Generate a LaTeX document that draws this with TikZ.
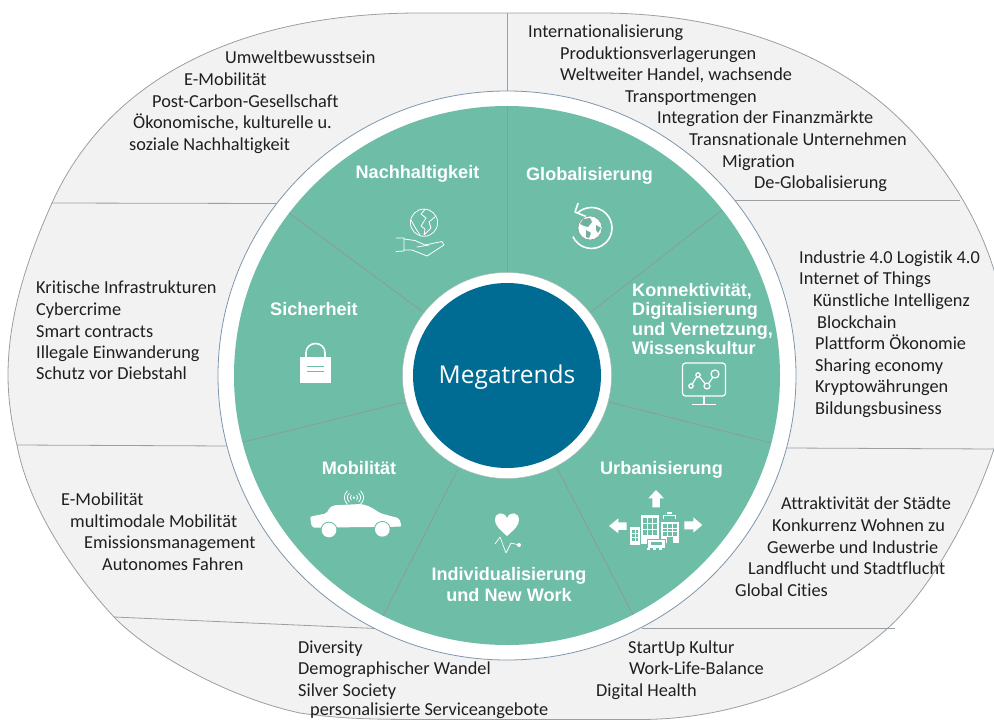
\documentclass[tikz,border=0pt]{standalone}
\usepackage{fontspec}
\usetikzlibrary{shapes.geometric}
\setmainfont[Ligatures=NoCommon]{Carlito}
\newfontfamily\labelfont{Liberation Sans}
\newfontfamily\centerfont{Open Sans}
\definecolor{tealfill}{HTML}{6DBDA7}
\definecolor{deepblue}{HTML}{006C94}
\definecolor{panelgray}{HTML}{F2F2F2}
\definecolor{linegray}{HTML}{9A9FA3}
\definecolor{ringblue}{HTML}{7F96AC}
\definecolor{sepgray}{HTML}{8E9C98}
\tikzset{
  x=1pt,y=-1pt,
  item/.style={anchor=base west,inner sep=0pt,font=\fontsize{18.3}{20}\selectfont,text=black!88},
  trend/.style={anchor=base,inner sep=0pt,text=white,font=\labelfont\bfseries\fontsize{18.1}{20}\selectfont},
  trendl/.style={trend,anchor=base west},
  outerline/.style={draw=linegray,line width=0.8pt},
  sepline/.style={draw=sepgray,line width=0.8pt},
  iconfill/.style={fill=white,draw=none},
  iconline/.style={draw=white,line width=0.8pt,fill=none,line cap=round,line join=round},
  iconcut/.style={fill=tealfill,draw=none},
}
\begin{document}
\begin{tikzpicture}
\useasboundingbox (0,0) rectangle (994,720);
\clip (0,0) rectangle (994,720);
% outer shape
\draw[fill=panelgray,draw=linegray,line width=0.8pt]
 (420,13) .. controls (230,13) and (105,85) .. (52,203)
 .. controls (25,263) and (8,320) .. (8,375)
 .. controls (8,400) and (12,425) .. (17,445)
 .. controls (28,505) and (72,572) .. (114,617)
 .. controls (145,650) and (225,697) .. (300,713)
 .. controls (340,719) and (380,719.5) .. (420,719.5)
 -- (640,719.5)
 .. controls (740,719.5) and (830,680) .. (888,628)
 .. controls (930,590) and (972,515) .. (994,449)
 .. controls (1003,420) and (1006,395) .. (1006,360)
 .. controls (1006,330) and (1003,300) .. (994,270)
 .. controls (980,225) and (955,180) .. (917,137)
 .. controls (840,50) and (720,13) .. (600,13)
 -- cycle;
% outer dividers
\draw[outerline] (507,13) -- (507,92);
\draw[outerline] (52,203) -- (276,203.5);
\draw[outerline] (735,200.7) -- (960,200.7);
\draw[outerline] (17,445) -- (228,446);
\draw[outerline] (787,448) -- (994,449);
\draw[outerline] (114,617) -- (376,628.5);
\draw[outerline] (642,628) -- (895,628);
% rings
\node[ellipse,minimum width=578pt,minimum height=569pt,inner sep=0pt,fill=white,draw=ringblue,line width=0.8pt] (ring) at (507,375.5) {};
\node[ellipse,minimum width=546pt,minimum height=539pt,inner sep=0pt,fill=tealfill] (wheel) at (507,375.5) {};
% separators
\draw[sepline] (507,106) -- (507,272);
\draw[sepline] (289,213) -- (423,312);
\draw[sepline] (722,210) -- (591,312);
\draw[sepline] (243,442) -- (405,402);
\draw[sepline] (609,402) -- (771,443);
\draw[sepline] (458,469) -- (383,616);
\draw[sepline] (557,468) -- (633,615);
% centre
\node[ellipse,minimum width=209pt,minimum height=206pt,inner sep=0pt,fill=white,draw=sepgray!70,line width=0.4pt] (hubring) at (507,375.5) {};
\node[ellipse,minimum width=188pt,minimum height=185pt,inner sep=0pt,fill=deepblue] (hub) at (507,375.5) {};
\node[anchor=base,inner sep=0pt,text=white,font=\centerfont\fontsize{24.5}{30}\selectfont] (megatrends) at (507,383) {Megatrends};
% trend labels
\node[trend] (t1) at (417.5,178) {Nachhaltigkeit};
\node[trend] (t2) at (589.5,180) {Globalisierung};
\node[trend] (t3) at (314,315) {Sicherheit};
\node[trendl] (t4a) at (632,296) {Konnektivität,};
\node[trendl] (t4b) at (632,315) {Digitalisierung};
\node[trendl] (t4c) at (632,335) {und Vernetzung,};
\node[trendl] (t4d) at (632,354) {Wissenskultur};
\node[trend] (t5) at (359,474) {Mobilität};
\node[trend] (t6) at (661.5,474) {Urbanisierung};
\node[trend] (t7a) at (509,580) {Individualisierung};
\node[trend] (t7b) at (509,601) {und New Work};
% items
\node[item] (a1) at (225,63) {Umweltbewusstsein};
\node[item] (a2) at (184,85) {E-Mobilität};
\node[item] (a3) at (152,107) {Post-Carbon-Gesellschaft};
\node[item] (a4) at (133,128) {Ökonomische, kulturelle u.};
\node[item] (a5) at (129,150) {soziale Nachhaltigkeit};
\node[item] (b1) at (36,293) {Kritische Infrastrukturen};
\node[item] (b2) at (36,315) {Cybercrime};
\node[item] (b3) at (36,337) {Smart contracts};
\node[item] (b4) at (36,358) {Illegale Einwanderung};
\node[item] (b5) at (36,379) {Schutz vor Diebstahl};
\node[item] (c1) at (61,505) {E-Mobilität};
\node[item] (c2) at (70,527) {multimodale Mobilität};
\node[item] (c3) at (84,548) {Emissionsmanagement};
\node[item] (c4) at (102,570) {Autonomes Fahren};
\node[item] (d1) at (298,653) {Diversity};
\node[item] (d2) at (298,674) {Demographischer Wandel};
\node[item] (d3) at (298,696) {Silver Society};
\node[item] (d4) at (310,715.5) {personalisierte Serviceangebote};
\node[item] (e1) at (628,653) {StartUp Kultur};
\node[item] (e2) at (629,674) {Work-Life-Balance};
\node[item] (e3) at (596,696) {Digital Health};
\node[item] (f1) at (781,509) {Attraktivität der Städte};
\node[item] (f2) at (772,531) {Konkurrenz Wohnen zu};
\node[item] (f3) at (767,553) {Gewerbe und Industrie};
\node[item] (f4) at (748,574) {Landflucht und Stadtflucht};
\node[item] (f5) at (735,596) {Global Cities};
\node[item] (g1) at (528,37) {Internationalisierung};
\node[item] (g2) at (560,59) {Produktionsverlagerungen};
\node[item] (g3) at (560,80) {Weltweiter Handel, wachsende};
\node[item] (g4) at (625,102) {Transportmengen};
\node[item] (g5) at (657,123) {Integration der Finanzmärkte};
\node[item] (g6) at (689,145) {Transnationale Unternehmen};
\node[item] (g7) at (722,167) {Migration};
\node[item] (g8) at (754,188) {De-Globalisierung};
\node[item] (h1) at (799,263) {Industrie 4.0 Logistik 4.0};
\node[item] (h2) at (799,284) {Internet of Things};
\node[item] (h3) at (813,306) {Künstliche Intelligenz};
\node[item] (h4) at (817,328) {Blockchain};
\node[item] (h5) at (815,349) {Plattform Ökonomie};
\node[item] (h6) at (815,371) {Sharing economy};
\node[item] (h7) at (815,392) {Kryptowährungen};
\node[item] (h8) at (815,414) {Bildungsbusiness};
% icon: earth on hand
\draw[iconline] (424,222.7) circle[radius=13.6];
\draw[iconline] (425,209.5) -- (421,214) -- (426,218) -- (421,226) -- (425,229) -- (424,235) -- (431,228) -- (429,222) -- (436,216);
\draw[iconline] (411,220) -- (416,229) -- (420,235);
\draw[iconline] (396,238) -- (404,238) -- (404,251) -- (396,251.5);
\draw[iconline] (404,239) -- (415,240.5) -- (425,245) -- (442,241.5) -- (444,245) -- (427,256) -- (412,250) -- (404,250);
\draw[iconline] (417,247) -- (429,245);
% icon: globe with return arrow
\draw[draw=white,line width=1.6pt] (577,213.5) arc[start angle=225,end angle=515,radius=20.5];
\draw[draw=white,line width=1.6pt,line cap=round,line join=round] (578,203.5) -- (575,212) -- (586,216.5);
\fill[white] (590,228) circle[radius=12];
\draw[fill=none,draw=sepgray,line width=0.6pt] (590,228) circle[radius=12];
\fill[tealfill!80!gray] (583,219) -- (590,218) -- (592,222) -- (588,227) -- (584,226) -- (580,224) -- cycle;
\fill[tealfill!80!gray] (586,230) -- (591,233) -- (589,238) -- (586,237) -- cycle;
\fill[tealfill!80!gray] (596,225) -- (601,228) -- (598,233) -- (596,230) -- cycle;
% icon: lock
\draw[draw=white,line width=1.6pt] (306,358) -- (306,352.5) arc[start angle=180,end angle=360,x radius=9.5,y radius=9] -- (325,358);
\fill[iconfill] (300,357) rectangle (331,383);
\draw[draw=tealfill,line width=1pt] (307,366) -- (324,366) (307,371) -- (324,371);
% icon: monitor
\draw[draw=white,line width=1.2pt,rounded corners=3pt] (682.5,363) rectangle (725.5,396);
\draw[draw=white,line width=1.2pt] (704,396) -- (704,404.5) (692,404.5) -- (716,404.5);
\draw[draw=white,line width=1.2pt] (691,386) -- (698,375) -- (707,386) -- (715,374);
\draw[draw=white,line width=1.2pt,fill=tealfill] (691,386) circle[radius=2.2] (698,375) circle[radius=2.2] (707,386) circle[radius=3] (715,374) circle[radius=4];
% icon: car
\begin{scope}[shift={(290,480)},x=0.3333pt,y=-0.3333pt]
\fill[iconfill,rounded corners=2pt] (60,110) -- (110,100) -- (118,84) -- (130,76) -- (215,72) -- (240,80) -- (272,100) -- (328,115) -- (335,140) -- (66,143) -- cycle;
\fill[tealfill] (117,150) circle[radius=25];
\fill[tealfill] (277,148) circle[radius=25];
\fill[white] (117,150) circle[radius=22];
\fill[white] (277,148) circle[radius=22];
\fill[white] (192,53) circle[radius=4];
\draw[iconline] (172,33) .. controls (160,45) and (160,60) .. (172,72);
\draw[iconline] (178,40) .. controls (170,48) and (170,57) .. (178,66);
\draw[iconline] (184,46) .. controls (180,50) and (180,55) .. (184,60);
\draw[iconline] (212,33) .. controls (224,45) and (224,60) .. (212,72);
\draw[iconline] (206,40) .. controls (214,48) and (214,57) .. (206,66);
\draw[iconline] (200,46) .. controls (204,50) and (204,55) .. (200,60);
\end{scope}
% icon: urban
\begin{scope}[shift={(590,480)},x=0.3333pt,y=-0.3333pt]
\fill[iconfill] (198,30) -- (222,55) -- (210,55) -- (210,82) -- (187,82) -- (187,55) -- (175,55) -- cycle;
\fill[iconfill] (57,138) -- (85,115) -- (85,127) -- (110,127) -- (110,150) -- (85,150) -- (85,160) -- cycle;
\fill[iconfill] (337,135) -- (310,112) -- (310,124) -- (283,124) -- (283,148) -- (310,148) -- (310,158) -- cycle;
\fill[iconfill] (152,105) rectangle (208,192);
\fill[iconfill] (120,142) rectangle (150,195);
\fill[iconfill] (213,125) rectangle (267,188);
\draw[draw=white,line width=1pt] (222,118) -- (222,106) -- (256,106) -- (256,118);
\fill[iconfill] (232,96) rectangle (246,101);
\fill[iconcut] (160,113) rectangle (200,165);
\draw[draw=white,line width=0.9pt] (173,113) -- (173,165) (186,113) -- (186,165) (160,130) -- (200,130) (160,147) -- (200,147);
\fill[iconcut] (125,150) rectangle (145,184);
\draw[draw=white,line width=0.8pt] (135,150) -- (135,184) (125,161) -- (145,161) (125,172) -- (145,172);
\fill[iconcut] (219,133) rectangle (262,167);
\draw[draw=white,line width=0.8pt] (233,133) -- (233,167) (248,133) -- (248,167) (219,144) -- (262,144) (219,155) -- (262,155);
\fill[iconcut] (230,172) rectangle (248,188);
\draw[draw=tealfill,fill=white,line width=0.8pt] (172,178) rectangle (225,205);
\fill[iconcut] (182,186) rectangle (215,194);
\draw[draw=white,line width=2pt,dash pattern=on 3pt off 3pt] (172,208) -- (225,208);
\end{scope}
% icon: heart and pulse
\fill[iconfill] (507,536) .. controls (499,529) and (495,525) .. (495,520) .. controls (495,512) and (504,511) .. (507,518) .. controls (510,511) and (519,512) .. (519,520) .. controls (519,525) and (515,529) .. (507,536) -- cycle;
\draw[iconline,line width=0.7pt] (495,544) -- (500,537) -- (506,553) -- (511,543) -- (519,545);
\fill[white] (519,545) circle[radius=2];
\end{tikzpicture}
\end{document}
